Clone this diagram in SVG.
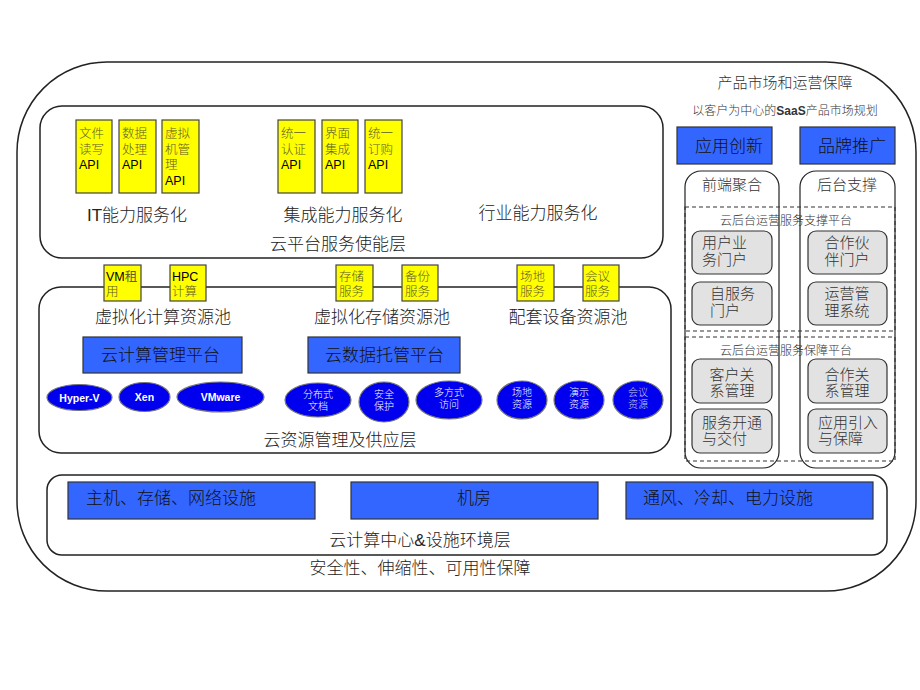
<svg xmlns="http://www.w3.org/2000/svg" width="920" height="690" viewBox="0 0 920 690">
<style>
text{font-family:"Liberation Sans","Noto Sans CJK SC",sans-serif;fill:#222;font-weight:300}
.frame{fill:#fff;stroke:#222;stroke-width:1.5}
.yel{fill:#ffff00;stroke:#444;stroke-width:1.2}
.yt{font-size:12.5px;fill:#5c5c2e}
.api{font-size:12.5px;fill:#000;font-weight:normal}
.st{font-size:12.5px;fill:#5c5c2e}
.title{font-size:17px;text-anchor:middle}
.blue{fill:#3366ff;stroke:#333;stroke-width:1.2}
.bt{font-size:17px;fill:#111}
.ell{fill:#0000ee;stroke:#777;stroke-width:1.2}
.et{font-size:10.5px;fill:#fff;font-weight:bold;text-anchor:middle}
.ec{font-size:10px;fill:#fff;text-anchor:middle}
.gray{fill:#e2e2e2;stroke:#333;stroke-width:1.2}
.gt{font-size:15px;fill:#333}
.dash{fill:none;stroke:#333;stroke-width:1.2;stroke-dasharray:4,3}
.col{fill:none;stroke:#222;stroke-width:1.2}
.small{font-size:12px;text-anchor:middle;fill:#333}
</style>
<rect width="920" height="690" fill="#fff"/>
<g id="outer">
<rect class="frame" x="17" y="62" width="899" height="529" rx="90" ry="90"/>
<text class="title" x="420" y="574">安全性、伸缩性、可用性保障</text>
</g>
<g id="layer-service">
<rect class="frame" x="40" y="106" width="623" height="152" rx="22" ry="22"/>
<text class="title" x="338" y="250">云平台服务使能层</text>
<text class="title" x="137" y="221">IT能力服务化</text>
<text class="title" x="343" y="221">集成能力服务化</text>
<text class="title" x="538" y="219">行业能力服务化</text>
</g>
<g id="api-file"><rect class="yel" x="76" y="120" width="36" height="73"/><text class="yt" x="79" y="138">文件</text><text class="yt" x="79" y="153.5">读写</text><text class="api" x="79" y="168.5">API</text></g>
<g id="api-data"><rect class="yel" x="119" y="120" width="37" height="73"/><text class="yt" x="122" y="138">数据</text><text class="yt" x="122" y="153.5">处理</text><text class="api" x="122" y="168.5">API</text></g>
<g id="api-vm"><rect class="yel" x="162" y="120" width="37" height="73"/><text class="yt" x="165" y="138">虚拟</text><text class="yt" x="165" y="153.5">机管</text><text class="yt" x="165" y="169">理</text><text class="api" x="165" y="184.5">API</text></g>
<g id="api-auth"><rect class="yel" x="278" y="120" width="37" height="73"/><text class="yt" x="281" y="138">统一</text><text class="yt" x="281" y="153.5">认证</text><text class="api" x="281" y="168.5">API</text></g>
<g id="api-ui"><rect class="yel" x="322" y="120" width="36" height="73"/><text class="yt" x="325" y="138">界面</text><text class="yt" x="325" y="153.5">集成</text><text class="api" x="325" y="168.5">API</text></g>
<g id="api-order"><rect class="yel" x="365" y="120" width="37" height="73"/><text class="yt" x="368" y="138">统一</text><text class="yt" x="368" y="153.5">订购</text><text class="api" x="368" y="168.5">API</text></g>

<g id="layer-resource">
<rect class="frame" x="39" y="287" width="632" height="166" rx="22" ry="22"/>
<text class="title" x="163" y="323">虚拟化计算资源池</text>
<text class="title" x="382" y="323">虚拟化存储资源池</text>
<text class="title" x="568" y="323">配套设备资源池</text>
<text class="title" x="340" y="446">云资源管理及供应层</text>
</g>
<g id="svc-vm"><rect class="yel" x="104" y="265" width="37" height="36"/><text class="api" x="106" y="281">VM<tspan class="st">租</tspan></text><text class="st" x="106" y="296">用</text></g>
<g id="svc-hpc"><rect class="yel" x="170" y="265" width="36" height="36"/><text class="api" x="172" y="281">HPC</text><text class="st" x="172" y="296">计算</text></g>
<g id="svc-store"><rect class="yel" x="336" y="265" width="37" height="36"/><text class="st" x="339" y="281">存储</text><text class="st" x="339" y="296">服务</text></g>
<g id="svc-backup"><rect class="yel" x="402" y="265" width="36" height="36"/><text class="st" x="405" y="281">备份</text><text class="st" x="405" y="296">服务</text></g>
<g id="svc-site"><rect class="yel" x="517" y="265" width="37" height="36"/><text class="st" x="520" y="281">场地</text><text class="st" x="520" y="296">服务</text></g>
<g id="svc-meet"><rect class="yel" x="583" y="265" width="36" height="36"/><text class="st" x="585" y="281">会议</text><text class="st" x="585" y="296">服务</text></g>

<g id="cloud-compute-platform"><rect class="blue" x="83" y="337" width="159" height="36"/><text class="bt" x="101" y="360.5">云计算管理平台</text></g>
<g id="cloud-data-platform"><rect class="blue" x="308" y="337" width="152" height="36"/><text class="bt" x="325" y="360.5">云数据托管平台</text></g>

<g id="hyperv"><ellipse class="ell" cx="79.5" cy="397.5" rx="32.5" ry="13"/><text class="et" x="79.5" y="401.5">Hyper-V</text></g>
<g id="xen"><ellipse class="ell" cx="144.5" cy="397" rx="25.5" ry="14.5"/><text class="et" x="144.5" y="401">Xen</text></g>
<g id="vmware"><ellipse class="ell" cx="220.5" cy="397" rx="43.5" ry="15"/><text class="et" x="220.5" y="401">VMware</text></g>
<g id="dist-doc"><ellipse class="ell" cx="318" cy="400" rx="33" ry="17"/><text class="ec" x="318" y="398">分布式</text><text class="ec" x="318" y="410">文档</text></g>
<g id="security"><ellipse class="ell" cx="384" cy="402" rx="25" ry="20"/><text class="ec" x="384" y="398">安全</text><text class="ec" x="384" y="410">保护</text></g>
<g id="multi-access"><ellipse class="ell" cx="449" cy="400" rx="33" ry="19"/><text class="ec" x="449" y="396">多方式</text><text class="ec" x="449" y="408">访问</text></g>
<g id="site-res"><ellipse class="ell" cx="522" cy="400" rx="25" ry="19"/><text class="ec" x="522" y="396">场地</text><text class="ec" x="522" y="408">资源</text></g>
<g id="demo-res"><ellipse class="ell" cx="579" cy="400" rx="25" ry="19"/><text class="ec" x="579" y="396">演示</text><text class="ec" x="579" y="408">资源</text></g>
<g id="meet-res"><ellipse class="ell" cx="638" cy="400" rx="25" ry="19"/><text class="ec" x="638" y="396" style="fill:#ccd">会议</text><text class="ec" x="638" y="408" style="fill:#ccd">资源</text></g>

<g id="layer-infra">
<rect class="frame" x="47" y="475" width="840" height="80" rx="15" ry="15"/>
<text class="title" x="420" y="546">云计算中心&amp;设施环境层</text>
</g>
<g id="hosts"><rect class="blue" x="68" y="482" width="247" height="37"/><text class="bt" x="86" y="504">主机、存储、网络设施</text></g>
<g id="room"><rect class="blue" x="351" y="482" width="247" height="37"/><text class="bt" x="474" y="504" text-anchor="middle">机房</text></g>
<g id="power"><rect class="blue" x="626" y="482" width="247" height="37"/><text class="bt" x="643" y="504">通风、冷却、电力设施</text></g>

<g id="market">
<text x="785" y="88" style="font-size:15px;fill:#333" text-anchor="middle">产品市场和运营保障</text>
<text class="small" x="785" y="115">以客户为中心的<tspan style="font-weight:bold">SaaS</tspan>产品市场规划</text>
</g>
<g id="app-innovation"><rect class="blue" x="677" y="127" width="95" height="37"/><text class="bt" x="695" y="151.5">应用创新</text></g>
<g id="brand"><rect class="blue" x="800" y="127" width="95" height="37"/><text class="bt" x="818" y="151.5">品牌推广</text></g>

<g id="frontend"><rect class="col" x="685" y="171" width="94" height="297" rx="16" ry="16"/><text x="732" y="190" style="font-size:15px;fill:#333" text-anchor="middle">前端聚合</text></g>
<g id="backend"><rect class="col" x="800" y="171" width="95" height="297" rx="16" ry="16"/><text x="847" y="190" style="font-size:15px;fill:#333" text-anchor="middle">后台支撑</text></g>

<g id="support-platform"><rect class="dash" x="685" y="207" width="210" height="124"/><text class="small" x="786" y="224.5">云后台运营服务支撑平台</text></g>
<g id="guarantee-platform"><rect class="dash" x="685" y="337" width="210" height="124"/><text class="small" x="786" y="354.5">云后台运营服务保障平台</text></g>

<g id="user-portal"><rect class="gray" x="692" y="231" width="80" height="43" rx="8" ry="8"/><text class="gt" x="702" y="248">用户业</text><text class="gt" x="702" y="265">务门户</text></g>
<g id="self-portal"><rect class="gray" x="692" y="282" width="80" height="43" rx="8" ry="8"/><text class="gt" x="710" y="299">自服务</text><text class="gt" x="710" y="316">门户</text></g>
<g id="crm"><rect class="gray" x="692" y="359" width="80" height="44" rx="8" ry="8"/><text class="gt" x="732" y="380" text-anchor="middle">客户关</text><text class="gt" x="732" y="396" text-anchor="middle">系管理</text></g>
<g id="provision"><rect class="gray" x="692" y="409" width="80" height="44" rx="8" ry="8"/><text class="gt" x="702" y="428">服务开通</text><text class="gt" x="702" y="444">与交付</text></g>
<g id="partner-portal"><rect class="gray" x="808" y="231" width="79" height="43" rx="8" ry="8"/><text class="gt" x="847" y="248" text-anchor="middle">合作伙</text><text class="gt" x="847" y="265" text-anchor="middle">伴门户</text></g>
<g id="ops-mgmt"><rect class="gray" x="808" y="282" width="79" height="43" rx="8" ry="8"/><text class="gt" x="847" y="299" text-anchor="middle">运营管</text><text class="gt" x="847" y="316" text-anchor="middle">理系统</text></g>
<g id="prm"><rect class="gray" x="808" y="359" width="79" height="44" rx="8" ry="8"/><text class="gt" x="847" y="380" text-anchor="middle">合作关</text><text class="gt" x="847" y="396" text-anchor="middle">系管理</text></g>
<g id="app-intro"><rect class="gray" x="808" y="409" width="79" height="44" rx="8" ry="8"/><text class="gt" x="818" y="428">应用引入</text><text class="gt" x="818" y="444">与保障</text></g>
<g id="connectors"/>
</svg>
